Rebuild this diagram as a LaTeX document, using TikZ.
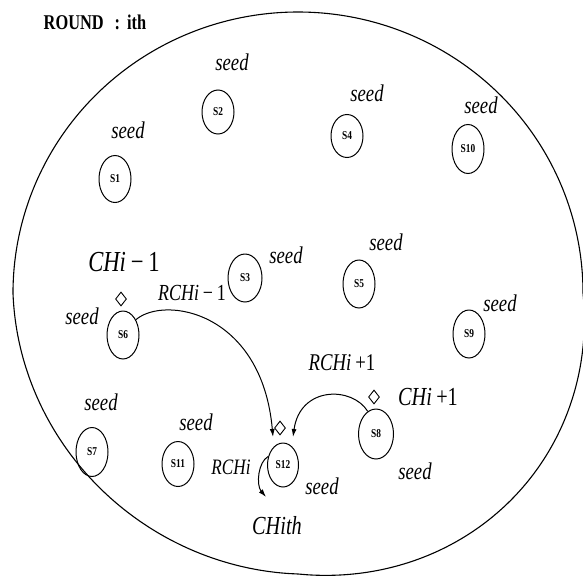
\documentclass[tikz,border=0pt]{standalone}
\usepackage{fontspec}
\setmainfont{Liberation Serif}[FakeStretch=0.78]
\usetikzlibrary{shapes.geometric,arrows.meta}
\begin{document}
\begin{tikzpicture}[x=1pt,y=-1pt,
  snode/.style={draw,ellipse,line width=1pt,minimum width=32pt,minimum height=47pt,inner sep=0pt,font=\fontsize{12}{12}\selectfont\bfseries},
  seedlbl/.style={inner sep=0pt,font=\fontsize{24}{24}\selectfont\itshape},
  chlbl/.style={inner sep=0pt,font=\fontsize{26}{26}\selectfont},
  rchlbl/.style={inner sep=0pt,font=\fontsize{23}{23}\selectfont},
  dmd/.style={draw,diamond,line width=0.9pt,minimum width=11pt,minimum height=14pt,inner sep=0pt},
  arr/.style={line width=1pt,-{Latex[length=8pt,width=5pt]}}
]
\useasboundingbox (0,0) rectangle (583,581);

% outer boundary (slightly egg-shaped ellipse)
\draw[line width=1.1pt] plot[domain=0:360, samples=181, smooth cycle, variable=\t]
 ({298+(285+14*max(0,sin(2*\t))*(\t<135)-5*max(0,-sin(2*\t))*(\t<180))*cos(\t)},
  {293+(281+14*max(0,sin(2*\t))*(\t<135)-5*max(0,-sin(2*\t))*(\t<180))*sin(\t)});

% title
\node[inner sep=0pt,font=\fontsize{21}{21}\selectfont\bfseries] (title) at (95,22) {ROUND\hspace{11pt}:\hspace{7pt}ith};

% sensor nodes
\node[snode] (S1) at (115,179) {S1};
\node[snode,minimum height=44pt] (S2) at (218,112) {S2};
\node[snode,minimum height=43pt] (S4) at (347,136) {S4};
\node[snode,minimum height=49pt] (S10) at (468,149) {S10};
\node[snode,minimum width=34pt,minimum height=48pt] (S3) at (245,278) {S3};
\node[snode,minimum height=48pt] (S5) at (359,284) {S5};
\node[snode,minimum height=48pt] (S6) at (123,335) {S6};
\node[snode,minimum height=48pt] (S9) at (469,334) {S9};
\node[snode,minimum height=49pt] (S7) at (92,452) {S7};
\node[snode,minimum height=45pt] (S11) at (178,464) {S11};
\node[snode,minimum width=31pt,minimum height=44pt] (S12) at (283,465) {S12};
\node[snode,minimum width=35pt,minimum height=50pt] (S8) at (376,434) {S8};

% seed labels
\node[seedlbl] (seed1) at (128,130) {seed};
\node[seedlbl] (seed2) at (232,62) {seed};
\node[seedlbl] (seed4) at (367,93) {seed};
\node[seedlbl] (seed10) at (481,105) {seed};
\node[seedlbl] (seed3) at (286,255) {seed};
\node[seedlbl] (seed5) at (386,242) {seed};
\node[seedlbl] (seed9) at (500,303) {seed};
\node[seedlbl] (seed6) at (82,316) {seed};
\node[seedlbl] (seed7) at (101,402) {seed};
\node[seedlbl] (seed11) at (196,422) {seed};
\node[seedlbl] (seed12) at (322,486) {seed};
\node[seedlbl] (seed8) at (415,471) {seed};

% cluster head labels
\node[inner sep=0pt,font=\fontsize{29}{29}\selectfont] (ch1) at (124,262) {\textit{CHi}\,−\,1};
\node[chlbl] (ch2) at (428,397) {\textit{CHi}\,+1};
\node[chlbl] (chi) at (277,526) {\textit{CHith}};
\node[rchlbl] (rch1) at (192,293) {\textit{RCHi}\,−\,1};
\node[inner sep=0pt,font=\fontsize{24}{24}\selectfont] (rch2) at (342,363) {\textit{RCHi}\,+1};
\node[inner sep=0pt,font=\fontsize{22}{22}\selectfont] (rchi) at (231,467) {\textit{RCHi}};

% diamonds
\node[dmd] (d6) at (121,299) {};
\node[dmd] (d12) at (280,428) {};
\node[dmd] (d8) at (374,397) {};

% arrows
\coordinate (t1) at (273,437);
\coordinate (t2) at (293,437);
\coordinate (t3) at (266,497);
\draw[arr] (S6.50) .. controls (165,295) and (262,312) .. (t1);
\draw[arr] (S8.110) .. controls (352,386) and (300,386) .. (t2);
\draw[arr] (S12.150) .. controls (258,462) and (256,485) .. (t3);
\end{tikzpicture}
\end{document}
